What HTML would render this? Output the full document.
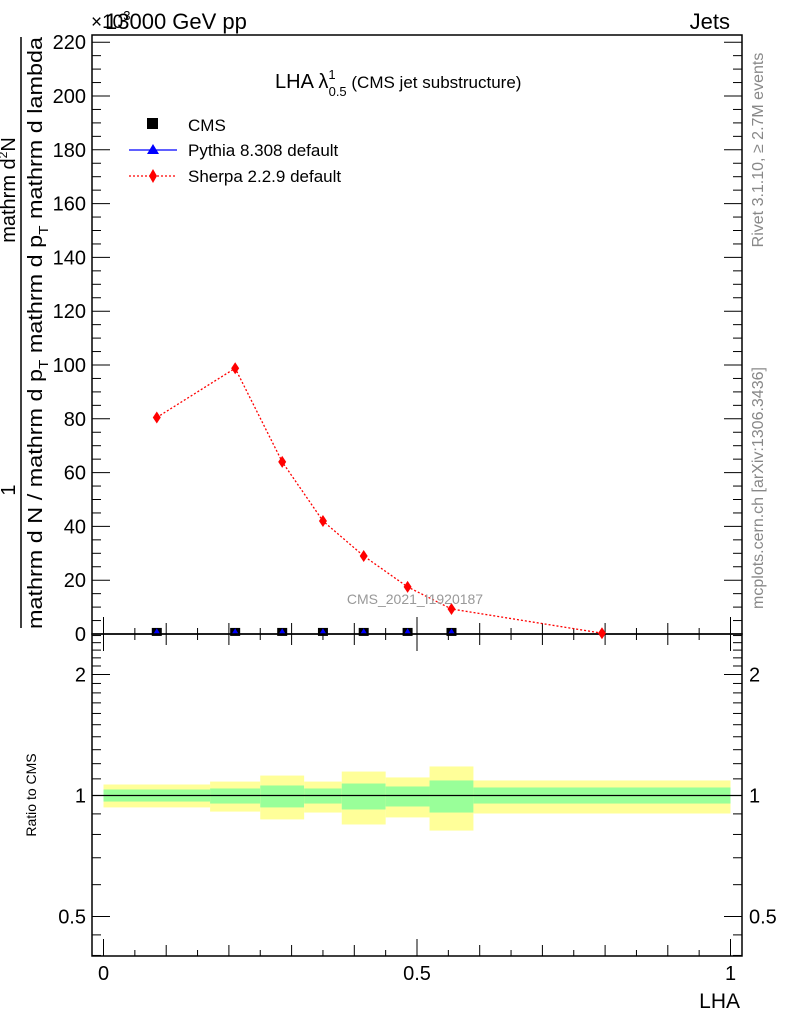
<!DOCTYPE html>
<html><head><meta charset="utf-8"><style>
body{margin:0;background:#fff}
svg text{font-family:"Liberation Sans",sans-serif}
</style></head><body>
<svg id="c" width="786" height="1024" viewBox="0 0 786 1024" xmlns="http://www.w3.org/2000/svg">
<g id="bands"></g>
<g id="axes"></g>
<g id="marks"></g>
<text x="105" y="29" font-size="22">13000 GeV pp</text>
<text x="91" y="28" font-size="19">×10<tspan font-size="13" dy="-8">3</tspan></text>
<text x="730" y="29" font-size="22" text-anchor="end">Jets</text>
<text x="275" y="88" font-size="20">LHA λ<tspan font-size="13" dy="-9">1</tspan><tspan font-size="13" dx="-7" dy="17">0.5</tspan><tspan font-size="17" dy="-8"> (CMS jet substructure)</tspan></text>
<g>
<rect x="147" y="118" width="11" height="11" fill="#000"/>
<text x="188" y="131" font-size="17">CMS</text>
<line x1="129" y1="150" x2="177" y2="150" stroke="#00f" stroke-width="1.3"/>
<polygon points="153,144 159,154 147,154" fill="#00f"/>
<text x="188" y="156" font-size="17">Pythia 8.308 default</text>
<line x1="129" y1="176" x2="177" y2="176" stroke="#f00" stroke-width="1.3" stroke-dasharray="2,2"/>
<polygon points="153,169 157,176 153,183 149,176" fill="#f00"/>
<text x="188" y="182" font-size="17">Sherpa 2.2.9 default</text>
</g>
<text x="415" y="604" font-size="14" fill="#999" text-anchor="middle">CMS_2021_I1920187</text>
<g>
<line x1="21" y1="37" x2="21" y2="628" stroke="#000" stroke-width="1.5"/>
<text transform="translate(15,490) rotate(-90)" font-size="20" text-anchor="middle">1</text>
<text transform="translate(15,190) rotate(-90)" font-size="20" text-anchor="middle">mathrm d<tspan font-size="12" dy="-8">2</tspan><tspan dy="8">N</tspan></text>
<text transform="translate(42,333) rotate(-90)" font-size="20" text-anchor="middle" textLength="592" lengthAdjust="spacingAndGlyphs">mathrm d N / mathrm d p<tspan font-size="13" dy="6">T</tspan><tspan dy="-6"> mathrm d p</tspan><tspan font-size="13" dy="6">T</tspan><tspan dy="-6"> mathrm d lambda</tspan></text>
</g>
<text transform="translate(763,150) rotate(-90)" font-size="16" fill="#888" text-anchor="middle">Rivet 3.1.10, ≥ 2.7M events</text>
<text transform="translate(763,488) rotate(-90)" font-size="16" fill="#888" text-anchor="middle">mcplots.cern.ch [arXiv:1306.3436]</text>
<text transform="translate(36,795) rotate(-90)" font-size="14" text-anchor="middle">Ratio to CMS</text>
<text x="740" y="1008" font-size="21" text-anchor="end">LHA</text>
</svg>
<script>
const binEdges=[0,0.17,0.25,0.32,0.38,0.45,0.52,0.59,1.0];
const cmsValues=[0.4,0.4,0.4,0.4,0.4,0.4,0.4];
const pythiaValues=[0.3,0.3,0.3,0.3,0.3,0.3,0.3];
const sherpaX=[0.085,0.21,0.285,0.35,0.415,0.485,0.555,0.795];
const sherpaValues=[80.5,98.8,64,42,29,17.5,9.3,0.3];
const yellowUp=[1.065,1.083,1.121,1.083,1.147,1.109,1.181,1.09];
const yellowDown=[0.934,0.912,0.872,0.907,0.847,0.882,0.818,0.902];
const greenUp=[1.035,1.041,1.059,1.041,1.071,1.053,1.09,1.047];
const greenDown=[0.966,0.955,0.934,0.955,0.923,0.939,0.907,0.955];
const yTicks=[0,20,40,60,80,100,120,140,160,180,200,220];
const xTickLabels=[0,0.5,1];
const rTickLabels=[0.5,1,2];

const NS="http://www.w3.org/2000/svg";
const L=92,R=742,T=35,MB=634,RB=956;
const X=v=>103.5+627*v;
const Y=v=>634-2.69*v;
const RY=r=>795.5-121*Math.log2(r);
function mk(p,t,a){const e=document.createElementNS(NS,t);for(const k in a)e.setAttribute(k,a[k]);p.appendChild(e);return e;}
const bands=document.getElementById('bands'),axes=document.getElementById('axes'),marks=document.getElementById('marks');
for(let i=0;i<yellowUp.length;i++){
 const x0=X(binEdges[i]),x1=X(binEdges[i+1]);
 const y=mk(bands,'rect',{x:x0,y:RY(yellowUp[i]),width:x1-x0,height:RY(yellowDown[i])-RY(yellowUp[i]),fill:'#ffff99'});
 
 
 const g=mk(bands,'rect',{x:x0,y:RY(greenUp[i]),width:x1-x0,height:RY(greenDown[i])-RY(greenUp[i]),fill:'#99ff99'});
 
 
}
mk(bands,'line',{x1:L,y1:RY(1),x2:R,y2:RY(1),stroke:'#000','stroke-width':1.3});
mk(axes,'rect',{x:L,y:T,width:R-L,height:MB-T,fill:'none',stroke:'#000','stroke-width':1.5});
mk(axes,'rect',{x:L,y:MB,width:R-L,height:RB-MB,fill:'none',stroke:'#000','stroke-width':1.5});
for(let k=0;k<=20;k++){const v=k*0.05,x=X(v);const len=k%10==0?17:(k%2==0?11:6);
 mk(axes,'line',{x1:x,y1:MB,x2:x,y2:MB-len,stroke:'#000'});
 mk(axes,'line',{x1:x,y1:MB,x2:x,y2:MB+len,stroke:'#000'});
 mk(axes,'line',{x1:x,y1:RB,x2:x,y2:RB-len,stroke:'#000'});}
xTickLabels.forEach(v=>{const t=mk(axes,'text',{x:X(v),y:980,'font-size':20,'text-anchor':'middle'});t.textContent=v;
 
 });
for(let v=0;v<=220;v+=5){const y=Y(v),len=v%20==0?18:9;
 mk(axes,'line',{x1:L,y1:y,x2:L+len,y2:y,stroke:'#000'});
 mk(axes,'line',{x1:R,y1:y,x2:R-len,y2:y,stroke:'#000'});}
yTicks.forEach(v=>{const t=mk(axes,'text',{x:L-6,y:Y(v)+7,'font-size':20,'text-anchor':'end'});t.textContent=v;
 
 });
const rminor=[0.4,0.45,0.5,0.6,0.7,0.8,0.9,1,1.1,1.2,1.3,1.4,1.5,1.6,1.7,1.8,1.9,2,2.1,2.2,2.3,2.4,2.5];
rminor.forEach(r=>{const y=RY(r);if(y<MB||y>RB)return;const len=rTickLabels.includes(r)?18:9;
 mk(axes,'line',{x1:L,y1:y,x2:L+len,y2:y,stroke:'#000'});
 mk(axes,'line',{x1:R,y1:y,x2:R-len,y2:y,stroke:'#000'});});
rTickLabels.forEach(r=>{
 const a=mk(axes,'text',{x:L-6,y:RY(r)+7,'font-size':20,'text-anchor':'end'});a.textContent=r;
 
 
 const b=mk(axes,'text',{x:R+7,y:RY(r)+7,'font-size':20});b.textContent=r;
 
 });
const pts=sherpaX.map((x,i)=>X(x)+','+Y(sherpaValues[i])).join(' ');
const pl=mk(marks,'polyline',{points:pts,fill:'none',stroke:'#f00','stroke-width':1.3,'stroke-dasharray':'2,2'});


sherpaX.forEach((x,i)=>{const cx=X(x),cy=Y(sherpaValues[i]);
 const d=mk(marks,'polygon',{points:`${cx},${cy-6} ${cx+4},${cy} ${cx},${cy+6} ${cx-4},${cy}`,fill:'#f00'});
 
 });
cmsValues.forEach((v,i)=>{const cx=X((binEdges[i]+binEdges[i+1])/2),cy=Y(v);
 const s=mk(marks,'rect',{x:cx-5,y:cy-5,width:10,height:8,fill:'#000'});
 
 
 const py=Y(pythiaValues[i]);
 const p=mk(marks,'polygon',{points:`${cx},${py-5} ${cx+3},${py} ${cx-3},${py}`,fill:'#00f'});
 
 });
</script>
</body></html>
